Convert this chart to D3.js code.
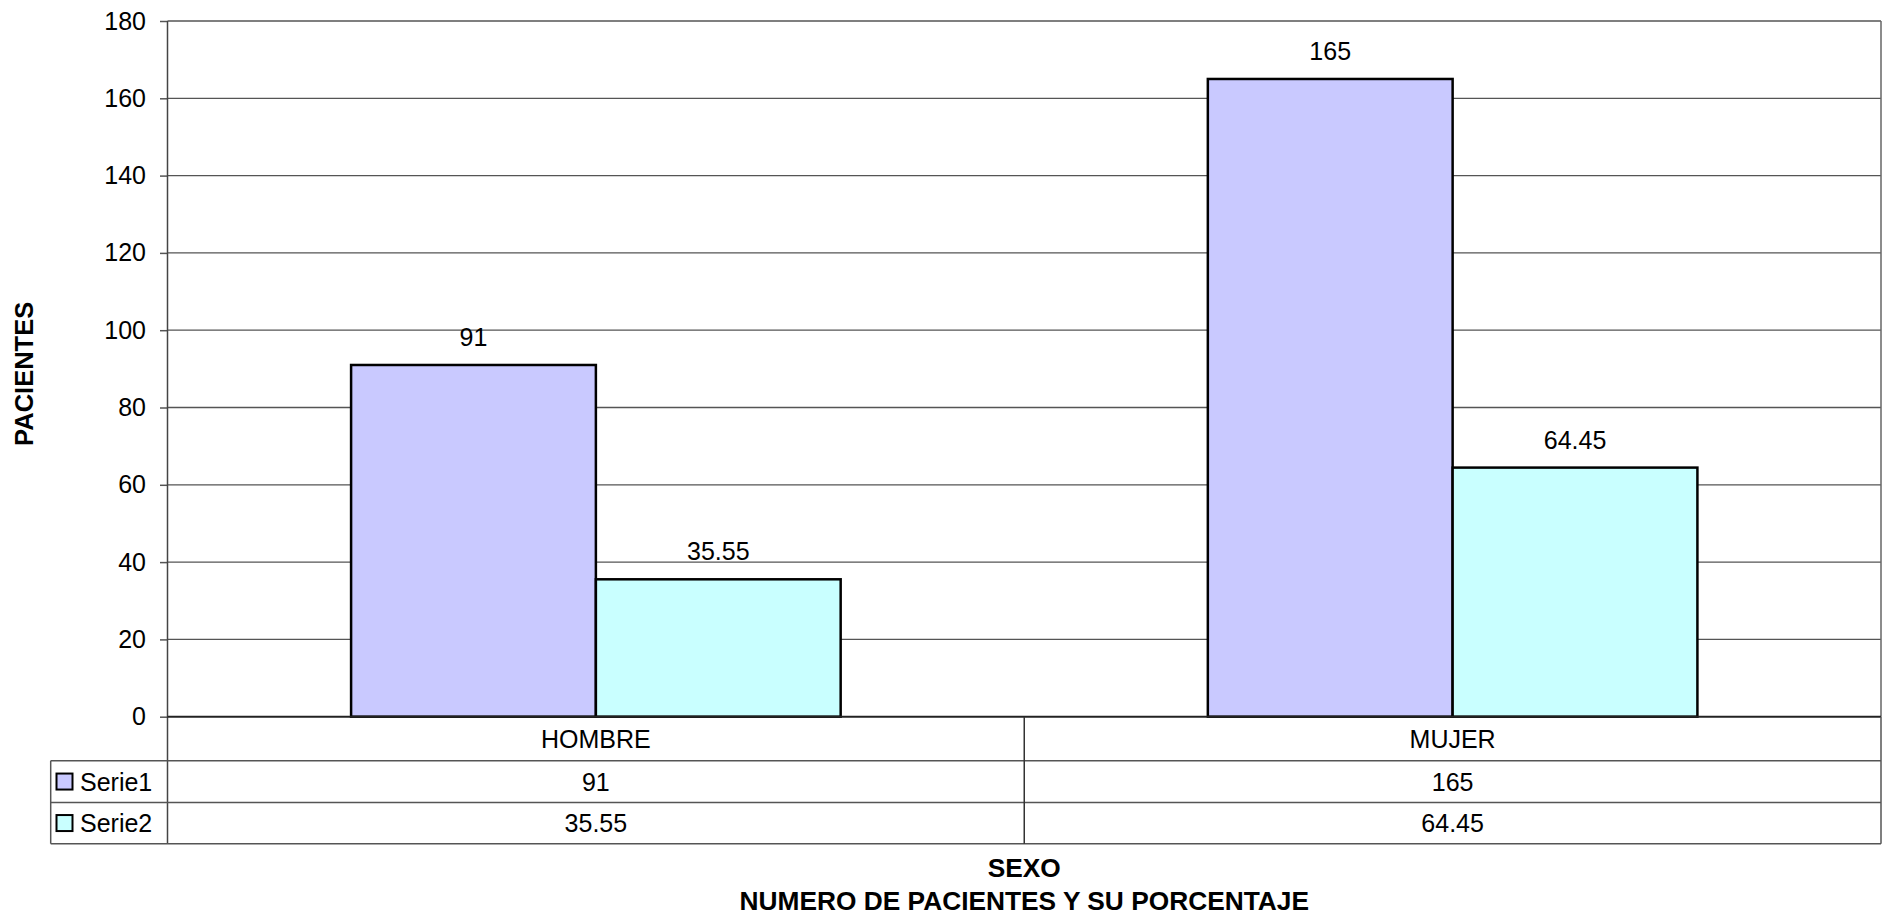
<!DOCTYPE html>
<html>
<head>
<meta charset="utf-8">
<script src="https://cdn.jsdelivr.net/npm/d3@7"></script>
<style>
html,body{margin:0;padding:0;background:#fff;}
svg{display:block;font-family:"Liberation Sans",Arial,sans-serif;}
</style>
</head>
<body>
<svg id="chart" width="1895" height="922"></svg>
<script>
const categories = ["HOMBRE", "MUJER"];
const seriesNames = ["Serie1", "Serie2"];
const serie1 = [91, 165];
const serie2 = [35.55, 64.45];
const yTicks = [0, 20, 40, 60, 80, 100, 120, 140, 160, 180];
const yTitle = "PACIENTES";
const xTitle1 = "SEXO";
const xTitle2 = "NUMERO DE PACIENTES Y SU PORCENTAJE";
const colors = ["#C9C9FF", "#C9FFFF"];

const seriesValues = [serie1, serie2];
const svg = d3.select("#chart");

const L = 167.5, R = 1881, T = 21, B = 716.7;
const rowH = [44, 41.7, 41.3];
const legL = 50.7;
const fs = 25;

const x = d3.scaleBand().domain(categories).range([L, R]).paddingInner(0).paddingOuter(0);
const xs = d3.scaleBand().domain(seriesNames).range([0, x.bandwidth()]).paddingInner(0).paddingOuter(0.75);
const y = d3.scaleLinear().domain([0, 180]).range([B, T]);

// gridlines
svg.append("g").selectAll("line").data(yTicks.filter(d => d > 0)).join("line")
  .attr("x1", L).attr("x2", R).attr("y1", d => y(d)).attr("y2", d => y(d))
  .attr("stroke", "#555").attr("stroke-width", 1.3);

// plot right border
svg.append("line").attr("x1", R).attr("x2", R).attr("y1", T).attr("y2", B)
  .attr("stroke", "#666").attr("stroke-width", 1.5);

// y axis
const yAxis = d3.axisLeft(y).tickValues(yTicks).tickSize(7.5).tickPadding(14).tickFormat(d3.format("d"));
const ga = svg.append("g").attr("transform", `translate(${L},0)`).call(yAxis);
ga.select(".domain").remove();
ga.selectAll(".tick line").attr("stroke", "#555").attr("stroke-width", 1.5);
ga.selectAll(".tick text").attr("font-size", fs).attr("fill", "#000")
  .attr("font-family", "'Liberation Sans',Arial,sans-serif");

// bars
const data = [];
categories.forEach((c, i) => seriesNames.forEach((s, j) => data.push({c, s, v: seriesValues[j][i], j})));

svg.append("g").selectAll("rect").data(data).join("rect")
  .attr("x", d => x(d.c) + xs(d.s))
  .attr("y", d => y(d.v))
  .attr("width", xs.bandwidth())
  .attr("height", d => y(0) - y(d.v))
  .attr("fill", d => colors[d.j])
  .attr("stroke", "#000").attr("stroke-width", 2.5);

svg.append("g").selectAll("text").data(data).join("text")
  .attr("x", d => x(d.c) + xs(d.s) + xs.bandwidth() / 2)
  .attr("y", d => y(d.v) - 19)
  .attr("text-anchor", "middle").attr("font-size", fs).attr("fill", "#000")
  .text(d => d.v);

// axis lines
svg.append("line").attr("x1", L).attr("x2", L).attr("y1", T).attr("y2", B + rowH[0] + rowH[1] + rowH[2])
  .attr("stroke", "#444").attr("stroke-width", 1.5);
svg.append("line").attr("x1", L).attr("x2", R).attr("y1", B).attr("y2", B)
  .attr("stroke", "#222").attr("stroke-width", 2);

// data table
const tg = svg.append("g");
const y0 = B, y1 = B + rowH[0], y2 = y1 + rowH[1], y3 = y2 + rowH[2];
const lineCol = "#555";
[[L, R, y1], [legL, R, y2], [legL, R, y3], [legL, L, y1]].forEach(([a, b, yy]) => {
  tg.append("line").attr("x1", a).attr("x2", b).attr("y1", yy).attr("y2", yy)
    .attr("stroke", lineCol).attr("stroke-width", 1.5);
});
tg.append("line").attr("x1", legL).attr("x2", legL).attr("y1", y1).attr("y2", y3).attr("stroke", lineCol).attr("stroke-width", 1.5);
tg.append("line").attr("x1", R).attr("x2", R).attr("y1", y0).attr("y2", y3).attr("stroke", lineCol).attr("stroke-width", 1.5);
categories.slice(1).forEach(c => {
  tg.append("line").attr("x1", x(c)).attr("x2", x(c)).attr("y1", y0).attr("y2", y3).attr("stroke", "#333").attr("stroke-width", 1.5);
});
tg.selectAll("text.cat").data(categories).join("text").attr("class", "cat")
  .attr("x", d => x(d) + x.bandwidth() / 2).attr("y", (y0 + y1) / 2 + fs * 0.36)
  .attr("text-anchor", "middle").attr("font-size", fs).text(d => d);
const rowsY = [[y1, y2], [y2, y3]];
seriesNames.forEach((s, j) => {
  const [ra, rb] = rowsY[j];
  const cy = (ra + rb) / 2;
  tg.append("rect").attr("x", 56.5).attr("y", cy - 8).attr("width", 16).attr("height", 16)
    .attr("fill", colors[j]).attr("stroke", "#000").attr("stroke-width", 2);
  tg.append("text").attr("x", 80).attr("y", cy + fs * 0.36).attr("font-size", fs).text(s);
  tg.selectAll(null).data(categories).join("text")
    .attr("x", d => x(d) + x.bandwidth() / 2).attr("y", cy + fs * 0.36)
    .attr("text-anchor", "middle").attr("font-size", fs)
    .text((d, i) => seriesValues[j][i]);
});

// titles
svg.append("text").attr("transform", `translate(32.5,${(T + B) / 2 + 5}) rotate(-90)`)
  .attr("text-anchor", "middle").attr("font-size", 25.5).attr("font-weight", "bold").text(yTitle);
svg.append("text").attr("x", (L + R) / 2).attr("y", 876.5)
  .attr("text-anchor", "middle").attr("font-size", 26.3).attr("font-weight", "bold").text(xTitle1);
svg.append("text").attr("x", (L + R) / 2).attr("y", 910)
  .attr("text-anchor", "middle").attr("font-size", 26.3).attr("font-weight", "bold").text(xTitle2);
</script>
</body>
</html>
